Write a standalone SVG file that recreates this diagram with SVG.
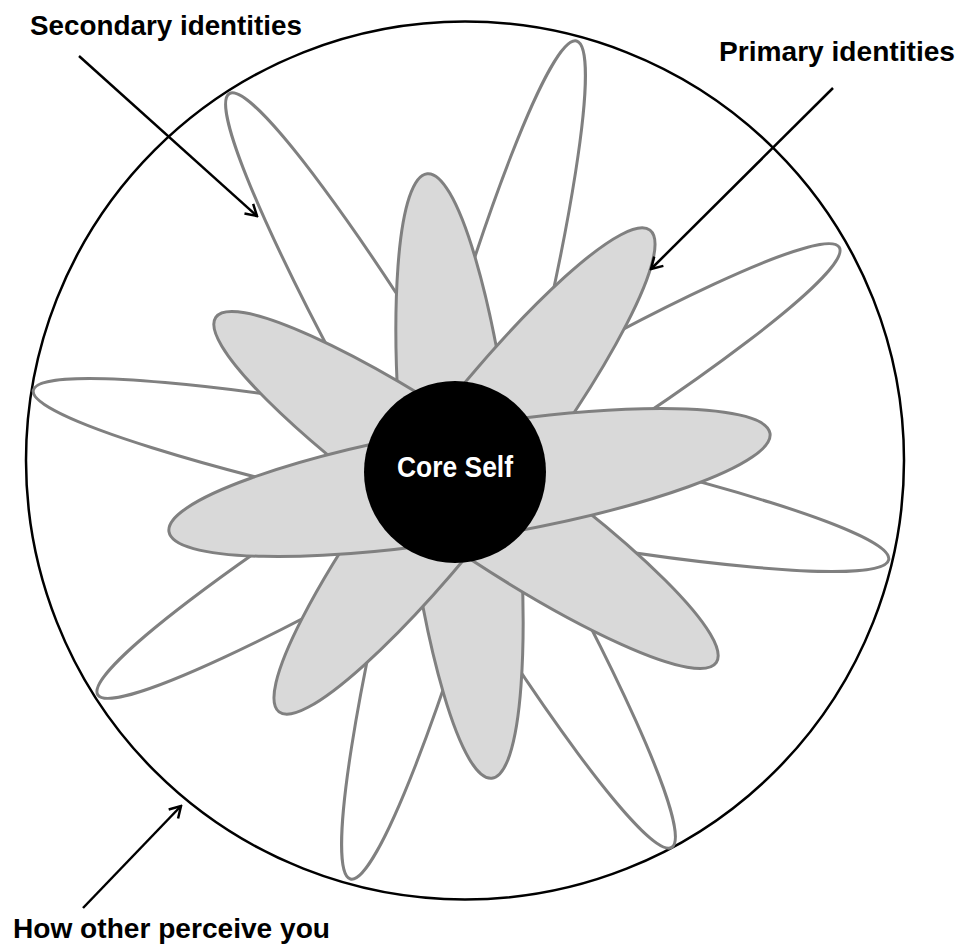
<svg xmlns="http://www.w3.org/2000/svg" width="959" height="945" viewBox="0 0 959 945">
  <style>
    .outer { fill: #ffffff; stroke: #000000; stroke-width: 2.5; }
    .sec { fill: #ffffff; stroke: #808080; stroke-width: 3; }
    .pri { fill: #d9d9d9; stroke: #808080; stroke-width: 3; }
    .core { fill: #000000; }
    .lbl { font-family: "Liberation Sans", Arial, sans-serif; font-weight: bold; font-size: 28px; fill: #000000; }
    .corelbl { font-family: "Liberation Sans", Arial, sans-serif; font-weight: bold; font-size: 29px; fill: #ffffff; }
    .conn { fill: none; stroke: #000000; stroke-width: 2.5; }
  </style>
  <defs>
    <marker id="arr" viewBox="-14 -9 16 18" markerWidth="16" markerHeight="18" refX="0" refY="0" orient="auto" markerUnits="userSpaceOnUse">
      <path d="M-11,-6.5 L0,0 L-11,6.5" fill="none" stroke="#000000" stroke-width="2.5" stroke-linejoin="miter"/>
    </marker>
  </defs>
  <rect width="959" height="945" fill="#ffffff"/>

  <g id="outer-circle">
    <circle class="outer" cx="465" cy="460.5" r="439"/>
  </g>

  <g id="secondary-identities">
    <ellipse class="sec" cx="450.5" cy="470.5" rx="437" ry="47" transform="rotate(59.6 450.5 470.5)"/>
    <ellipse class="sec" cx="463.5" cy="460" rx="434" ry="47" transform="rotate(105.1 463.5 460)"/>
    <ellipse class="sec" cx="468.5" cy="471" rx="433" ry="47" transform="rotate(-31.1 468.5 471)"/>
    <ellipse class="sec" cx="461" cy="475" rx="436" ry="47" transform="rotate(11.2 461 475)"/>
  </g>

  <g id="primary-identities">
    <ellipse class="pri" cx="459.5" cy="476" rx="304" ry="55" transform="rotate(83.9 459.5 476)"/>
    <ellipse class="pri" cx="466" cy="490" rx="304" ry="55" transform="rotate(34.6 466 490)"/>
    <ellipse class="pri" cx="464.5" cy="471" rx="304" ry="55" transform="rotate(-52.4 464.5 471)"/>
    <ellipse class="pri" cx="469.5" cy="482.5" rx="304.5" ry="56" transform="rotate(-9.3 469.5 482.5)"/>
  </g>

  <g id="core-self">
    <circle class="core" cx="455" cy="472" r="91"/>
    <text class="corelbl" x="455" y="477" text-anchor="middle" textLength="116" lengthAdjust="spacingAndGlyphs">Core Self</text>
  </g>

  <g id="label-secondary">
    <text class="lbl" x="30" y="35" textLength="272" lengthAdjust="spacingAndGlyphs">Secondary identities</text>
  </g>
  <g id="label-primary">
    <text class="lbl" x="719" y="61" textLength="236" lengthAdjust="spacingAndGlyphs">Primary identities</text>
  </g>
  <g id="label-perceive">
    <text class="lbl" x="13" y="938" textLength="317" lengthAdjust="spacingAndGlyphs">How other perceive you</text>
  </g>

  <g id="connectors">
    <line class="conn" x1="79" y1="56" x2="257" y2="216" marker-end="url(#arr)"/>
    <line class="conn" x1="833" y1="88" x2="651" y2="269" marker-end="url(#arr)"/>
    <line class="conn" x1="83" y1="908" x2="181" y2="806" marker-end="url(#arr)"/>
  </g>
</svg>
